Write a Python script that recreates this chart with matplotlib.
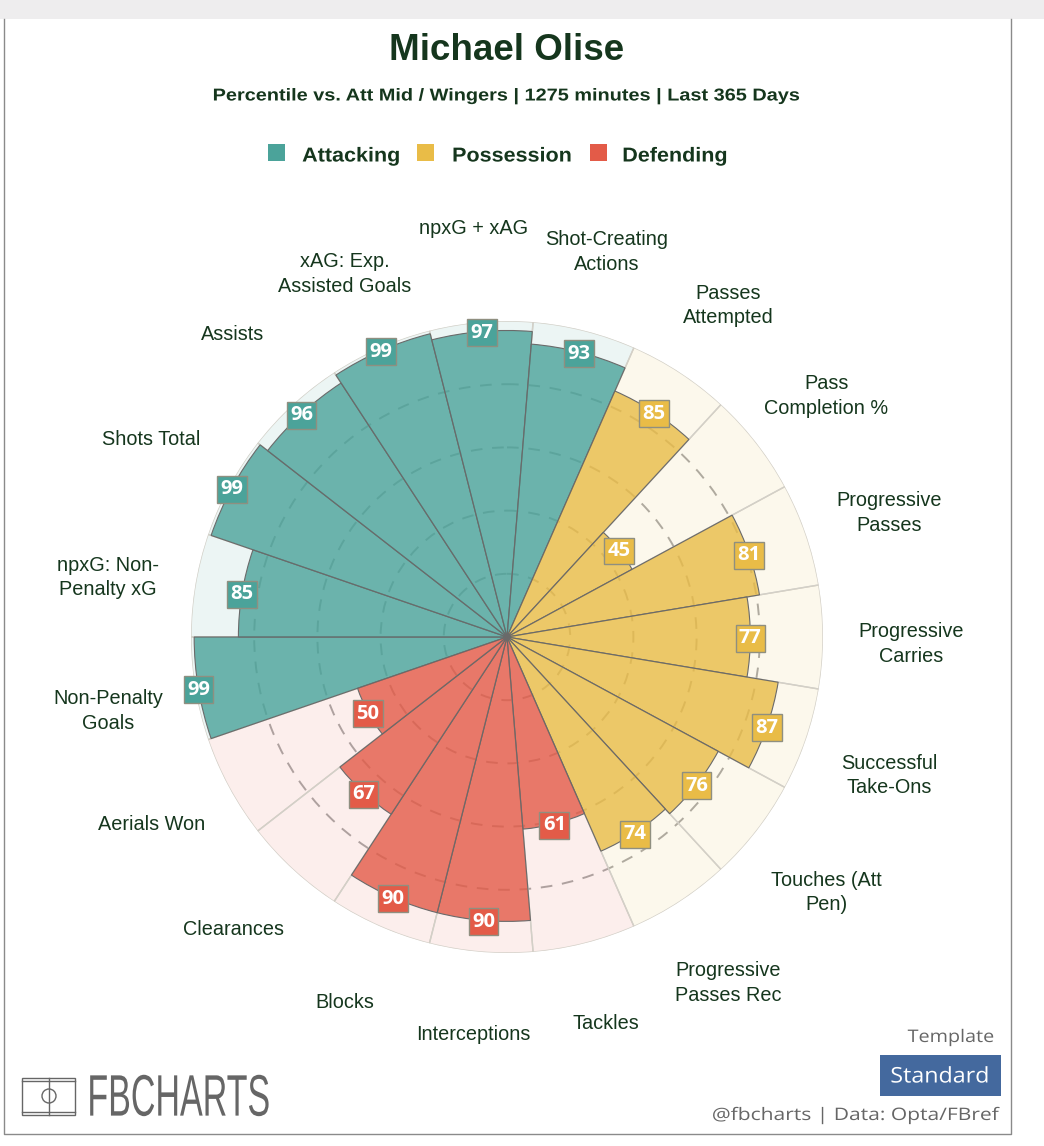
import numpy as np
import matplotlib
matplotlib.use('Agg')
import matplotlib.pyplot as plt
import matplotlib.patheffects as pe
from matplotlib.colors import to_rgba
from matplotlib.patches import Rectangle, Circle
from matplotlib.transforms import Affine2D

plt.rcParams['font.family'] = ['Liberation Sans', 'DejaVu Sans']

# clockwise, starting just below the west spoke
metrics = ['Non-Penalty\nGoals', 'npxG: Non-\nPenalty xG', 'Shots Total', 'Assists',
           'xAG: Exp.\nAssisted Goals', 'npxG + xAG', 'Shot-Creating\nActions',
           'Passes\nAttempted', 'Pass\nCompletion %', 'Progressive\nPasses',
           'Progressive\nCarries', 'Successful\nTake-Ons', 'Touches (Att\nPen)',
           'Progressive\nPasses Rec', 'Tackles', 'Interceptions', 'Blocks',
           'Clearances', 'Aerials Won']
percentiles = [99, 85, 99, 96, 99, 97, 93, 85, 45, 81, 77, 87, 76, 74, 61, 90, 90, 67, 50]
groups = ['Attacking'] * 7 + ['Possession'] * 7 + ['Defending'] * 5
group_names = ['Attacking', 'Possession', 'Defending']
group_colors = {'Attacking': '#4BA39A', 'Possession': '#E9BC47', 'Defending': '#E35B48'}

DARK = '#15361D'
GREY = '#666666'


class Stretch(pe.AbstractPathEffect):
    # scales text about its own centre, for the spaced out fonts
    def __init__(self, sx=1.0, sy=1.0, x0=0, y0=0):
        super().__init__()
        self.sx, self.sy, self.x0, self.y0 = sx, sy, x0, y0

    def draw_path(self, renderer, gc, tpath, affine, rgbFace=None):
        t = Affine2D().translate(-self.x0, -self.y0).scale(self.sx, self.sy).translate(self.x0, self.y0)
        renderer.draw_path(gc, tpath, affine + t, rgbFace)


fig = plt.figure(figsize=(10.44, 11.46), dpi=100, facecolor='white')

# page furniture in pixel coordinates
page = fig.add_axes([0, 0, 1, 1], zorder=0)
page.set_xlim(0, 1044)
page.set_ylim(1146, 0)
page.axis('off')
page.add_patch(Rectangle((0, 0), 1044, 19, fc='#EEEDEE', ec='none'))
page.plot([4, 4, 1011, 1011], [19, 1134, 1134, 19], color='#8a8a8a', lw=1)


def page_text(x, y, s, stretch=None, **kw):
    t = page.text(x, y, s, va='center', **kw)
    if stretch:
        fig.canvas.draw()
        bb = t.get_window_extent()
        t.set_path_effects([Stretch(stretch[0], stretch[1], (bb.x0 + bb.x1) / 2, (bb.y0 + bb.y1) / 2)])
    return t


page_text(507, 51, 'Michael Olise', ha='center', fontsize=26.5, fontweight='bold', color=DARK)
page_text(507, 96, 'Percentile vs. Att Mid / Wingers | 1275 minutes | Last 365 Days', stretch=(1.155, 1),
          ha='center', fontsize=12.4, fontweight='bold', color=DARK)

legend_x = [(268, 351), (417, 512), (590, 675)]
for name, (sq, tx) in zip(group_names, legend_x):
    page.add_patch(Rectangle((sq, 144), 17, 17, fc=group_colors[name], ec='none'))
    page_text(tx, 156, name, stretch=(1.07, 1), ha='center', fontsize=14.5, fontweight='bold', color=DARK)

# logo
page.add_patch(Rectangle((22, 1078), 53, 37, fc='none', ec=GREY, lw=1))
page.plot([22, 75], [1081, 1081], color=GREY, lw=1)
page.plot([22, 75], [1112, 1112], color=GREY, lw=1)
page.plot([49, 49], [1078, 1115], color=GREY, lw=1)
page.add_patch(Circle((49, 1096), 7, fc='none', ec=GREY, lw=1))
page_text(178.5, 1101, 'FBCHARTS', stretch=(1, 1.72), ha='center', fontsize=24.5, color=GREY)

page_text(951, 1038, 'Template', stretch=(1.14, 1), ha='center', fontsize=12.5, color=GREY,
          family=['Open Sans', 'DejaVu Sans'])
page.add_patch(Rectangle((880, 1055), 121, 41, fc='#44699E', ec='none'))
page_text(940, 1077, 'Standard', stretch=(1.08, 1), ha='center', fontsize=15.5, color='white',
          family=['Open Sans', 'DejaVu Sans'])
page_text(855.5, 1116, '@fbcharts | Data: Opta/FBref', stretch=(1.22, 1), ha='center', fontsize=12.4, color=GREY,
          family=['Open Sans', 'DejaVu Sans'])

# radar centre (507, 637), outer radius 316 px
ax = fig.add_axes([191 / 1044, 1 - 953 / 1146, 632 / 1044, 632 / 1146], polar=True, zorder=1)
ax.patch.set_alpha(0)
ax.set_theta_zero_location('N')
ax.set_theta_direction(-1)
ax.set_ylim(0, 100)
ax.spines['polar'].set_visible(False)
ax.set_xticks([])
ax.set_yticks([20, 40, 60, 80])
ax.set_yticklabels([])
ax.yaxis.grid(True, color='#A9A9A9', lw=1.4, linestyle=(0, (6, 5)))
ax.xaxis.grid(False)
ax.set_axisbelow(True)

n = len(metrics)
width = 2 * np.pi / n
start = 3 * np.pi / 2 - width / 2
thetas = [start + i * width for i in range(n)]

for th, grp in zip(thetas, groups):
    ax.bar(th, 100, width=width, color=to_rgba(group_colors[grp], 0.1), edgecolor='#D3D0C8', lw=1, zorder=2)
for th, val, grp, label in zip(thetas, percentiles, groups, metrics):
    col = group_colors[grp]
    ax.bar(th, val, width=width, color=to_rgba(col, 0.8), edgecolor='#6a6a6a', lw=0.8, zorder=3)
    ax.annotate(str(val), (th, val), xytext=(0, -1), textcoords='offset points', ha='center', va='center',
                color='white', fontsize=14.5, fontweight='bold', family=['Open Sans', 'DejaVu Sans'], zorder=5,
                annotation_clip=False, bbox=dict(boxstyle='square,pad=0.17', fc=col, ec='#8f8f80', lw=1))
    # two line labels sit lower than one line labels in the original
    dy = -5.2 if '\n' in label else 3.7
    ax.annotate(label, (th, 128), xytext=(0, dy), textcoords='offset points', ha='center', va='center',
                color=DARK, fontsize=14.3, linespacing=1.37, annotation_clip=False)

fig.savefig('out.png', dpi=100)
